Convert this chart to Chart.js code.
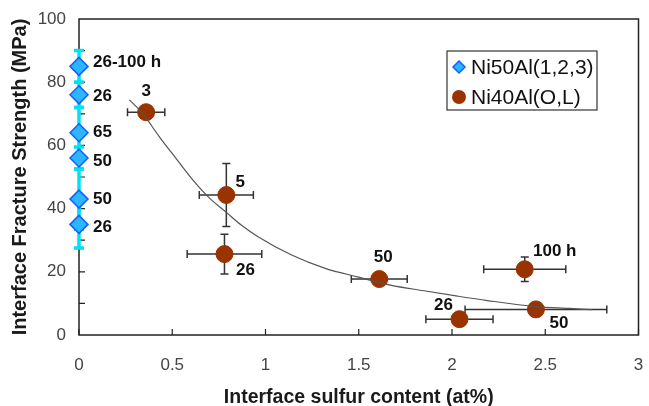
<!DOCTYPE html>
<html>
<head>
<meta charset="utf-8">
<script src="https://cdn.jsdelivr.net/npm/chart.js@4.4.1/dist/chart.umd.min.js"></script>
<style>
  html, body { margin: 0; padding: 0; background: #fff; }
</style>
</head>
<body>
<canvas id="chart" width="649" height="406"></canvas>
<script>
// Ni50Al samples (all at zero sulfur)
const ni50Sulfur = [0, 0, 0, 0, 0, 0];
const ni50Strength = [85, 76, 64, 56, 43, 35];
const ni50StrengthErr = [5, 4, 8, 3.5, 9.5, 7.5];
const ni50Labels = ["26-100 h", "26", "65", "50", "50", "26"];

// Ni40Al samples
const ni40Sulfur = [0.36, 0.79, 0.78, 1.61, 2.04, 2.45, 2.39];
const ni40Strength = [70.5, 44.3, 25.6, 17.7, 5.0, 8.1, 20.8];
const ni40SulfurErr = [0.1, 0.145, 0.2, 0.15, 0.18, 0.38, 0.22];
const ni40StrengthErr = [0, 10, 6.3, 0, 0, 0, 3.9];
const ni40Labels = ["3", "5", "26", "50", "26", "50", "100 h"];

// trend curve
const fitSulfur = [0.27, 0.34, 0.43, 0.52, 0.61, 0.70, 0.79, 0.87, 0.96, 1.14, 1.32, 1.50, 1.67, 1.85, 2.03, 2.19, 2.45, 2.63, 2.75];
const fitStrength = [74.4, 70.2, 62.8, 55.9, 49.1, 43.3, 38.8, 34.8, 31.1, 25.3, 21.1, 18.3, 15.8, 14.0, 12.3, 10.9, 9.0, 8.4, 8.0];

const xTicks = [0, 0.5, 1, 1.5, 2, 2.5, 3];
const yTicks = [0, 20, 40, 60, 80, 100];
const yMinorTicks = [10, 20, 30, 40, 50, 60, 70, 80, 90];

// label nudges in pixels (dx, dy)
const ni50LabelOffsets = [[14, -4], [14, 1], [14, 0], [14, 3], [14, 0], [14, 3]];
const ni40LabelOffsets = [[0, -21], [14, -13], [21, 16], [4, -22], [-16, -14], [23, 14], [30, -18]];

const FONT = "'Liberation Sans', Arial, sans-serif";
const BROWN = "#993300";
const DIAMOND_FILL = "#2cb6ff";
const DIAMOND_EDGE = "#1060ff";
const CYAN = "#00e1f5";

Chart.defaults.font.family = FONT;

const toPoints = (xs, ys) => xs.map((v, i) => ({ x: v, y: ys[i] }));

const overlay = {
  id: "overlay",
  beforeDatasetsDraw(chart) {
    const { ctx, chartArea: a, scales: { x, y } } = chart;
    ctx.save();
    // frame
    ctx.strokeStyle = "#222";
    ctx.lineWidth = 1.5;
    ctx.strokeRect(a.left, a.top, a.right - a.left, a.bottom - a.top);
    // inner ticks
    ctx.lineWidth = 1.2;
    ctx.beginPath();
    xTicks.forEach(t => {
      const px = x.getPixelForValue(t);
      ctx.moveTo(px, a.bottom);
      ctx.lineTo(px, a.bottom - 6);
    });
    yMinorTicks.forEach(t => {
      const py = y.getPixelForValue(t);
      ctx.moveTo(a.left, py);
      ctx.lineTo(a.left + 6, py);
    });
    ctx.stroke();

    // cyan error bars for Ni50Al
    ctx.strokeStyle = CYAN;
    ctx.lineWidth = 3.5;
    ni50Strength.forEach((v, i) => {
      const px = x.getPixelForValue(ni50Sulfur[i]);
      const lo = y.getPixelForValue(v - ni50StrengthErr[i]);
      const hi = y.getPixelForValue(v + ni50StrengthErr[i]);
      ctx.beginPath();
      ctx.moveTo(px, lo); ctx.lineTo(px, hi);
      ctx.moveTo(px - 5, lo); ctx.lineTo(px + 5, lo);
      ctx.moveTo(px - 5, hi); ctx.lineTo(px + 5, hi);
      ctx.stroke();
    });

    // dark error bars for Ni40Al
    ctx.strokeStyle = "#333";
    ctx.lineWidth = 1.5;
    ni40Strength.forEach((v, i) => {
      const px = x.getPixelForValue(ni40Sulfur[i]);
      const py = y.getPixelForValue(v);
      const xl = x.getPixelForValue(ni40Sulfur[i] - ni40SulfurErr[i]);
      const xr = x.getPixelForValue(ni40Sulfur[i] + ni40SulfurErr[i]);
      ctx.beginPath();
      ctx.moveTo(xl, py); ctx.lineTo(xr, py);
      ctx.moveTo(xl, py - 4); ctx.lineTo(xl, py + 4);
      ctx.moveTo(xr, py - 4); ctx.lineTo(xr, py + 4);
      if (ni40StrengthErr[i] > 0) {
        const lo = y.getPixelForValue(v - ni40StrengthErr[i]);
        const hi = y.getPixelForValue(v + ni40StrengthErr[i]);
        ctx.moveTo(px, lo); ctx.lineTo(px, hi);
        ctx.moveTo(px - 4, lo); ctx.lineTo(px + 4, lo);
        ctx.moveTo(px - 4, hi); ctx.lineTo(px + 4, hi);
      }
      ctx.stroke();
    });
    ctx.restore();
  },
  afterDatasetsDraw(chart) {
    const { ctx, scales: { x, y } } = chart;
    ctx.save();
    ctx.fillStyle = "#111";
    ctx.font = "bold 17px " + FONT;
    ctx.textBaseline = "middle";

    ctx.textAlign = "left";
    ni50Labels.forEach((t, i) => {
      const [dx, dy] = ni50LabelOffsets[i];
      ctx.fillText(t, x.getPixelForValue(ni50Sulfur[i]) + dx, y.getPixelForValue(ni50Strength[i]) + dy);
    });
    ctx.textAlign = "center";
    ni40Labels.forEach((t, i) => {
      const [dx, dy] = ni40LabelOffsets[i];
      ctx.fillText(t, x.getPixelForValue(ni40Sulfur[i]) + dx, y.getPixelForValue(ni40Strength[i]) + dy);
    });

    // legend box
    const lx = 447, ly = 51, lw = 150, lh = 59;
    ctx.fillStyle = "#fff";
    ctx.fillRect(lx, ly, lw, lh);
    ctx.strokeStyle = "#333";
    ctx.lineWidth = 1.2;
    ctx.strokeRect(lx, ly, lw, lh);

    const ds = chart.data.datasets;
    const rows = [ds[1], ds[2]];
    rows.forEach((d, i) => {
      const cy = ly + 16 + i * 30;
      ctx.beginPath();
      if (d.pointStyle === "rectRot") {
        ctx.moveTo(lx + 12, cy - 6); ctx.lineTo(lx + 18, cy);
        ctx.lineTo(lx + 12, cy + 6); ctx.lineTo(lx + 6, cy);
        ctx.closePath();
        ctx.fillStyle = d.backgroundColor;
        ctx.fill();
        ctx.strokeStyle = d.borderColor;
        ctx.lineWidth = 1.5;
        ctx.stroke();
      } else {
        ctx.arc(lx + 12, cy, 7, 0, Math.PI * 2);
        ctx.fillStyle = d.backgroundColor;
        ctx.fill();
      }
      ctx.fillStyle = "#111";
      ctx.font = "21px " + FONT;
      ctx.textAlign = "left";
      ctx.fillText(d.label, lx + 24, cy + 1);
    });
    ctx.restore();
  }
};

new Chart(document.getElementById("chart"), {
  type: "scatter",
  data: {
    datasets: [
      {
        label: "fit",
        data: toPoints(fitSulfur, fitStrength),
        showLine: true,
        borderColor: "#555",
        borderWidth: 1.2,
        pointRadius: 0,
        cubicInterpolationMode: "monotone",
        order: 0,
        clip: false
      },
      {
        label: "Ni50Al(1,2,3)",
        data: toPoints(ni50Sulfur, ni50Strength),
        pointStyle: "rectRot",
        pointRadius: 9,
        backgroundColor: DIAMOND_FILL,
        borderColor: DIAMOND_EDGE,
        borderWidth: 1.5,
        order: 1,
        clip: false
      },
      {
        label: "Ni40Al(O,L)",
        data: toPoints(ni40Sulfur, ni40Strength),
        pointStyle: "circle",
        pointRadius: 8.5,
        backgroundColor: BROWN,
        borderColor: BROWN,
        borderWidth: 1,
        order: 2,
        clip: false
      }
    ]
  },
  options: {
    responsive: false,
    animation: false,
    devicePixelRatio: 1,
    layout: { padding: { top: 19, right: 6, left: 0, bottom: 0 } },
    plugins: {
      legend: { display: false },
      tooltip: { enabled: false }
    },
    scales: {
      x: {
        type: "linear",
        min: 0,
        max: 3,
        afterFit: s => { s.height = 71; s.paddingLeft = 0; s.paddingRight = 0; },
        afterBuildTicks: s => { s.ticks = xTicks.map(v => ({ value: v })); },
        grid: { display: false, drawTicks: false },
        border: { display: false },
        ticks: { padding: 20, color: "#444", font: { size: 17 }, callback: v => String(v) },
        title: {
          display: true,
          text: "Interface sulfur content (at%)",
          color: "#1a1a1a",
          font: { size: 19.5, weight: "bold", lineHeight: 0.9 },
          padding: { top: 0, bottom: 0 }
        }
      },
      y: {
        min: 0,
        max: 100,
        afterFit: s => { s.width = 79; s.paddingTop = 0; s.paddingBottom = 0; },
        afterBuildTicks: s => { s.ticks = yTicks.map(v => ({ value: v })); },
        grid: { display: false, drawTicks: false },
        border: { display: false },
        ticks: { padding: 13, color: "#444", font: { size: 17 }, callback: v => String(v) },
        title: {
          display: true,
          text: "Interface Fracture Strength (MPa)",
          color: "#1a1a1a",
          font: { size: 20, weight: "bold" },
          padding: { top: 8, bottom: 0 }
        }
      }
    }
  },
  plugins: [overlay]
});
</script>
</body>
</html>
